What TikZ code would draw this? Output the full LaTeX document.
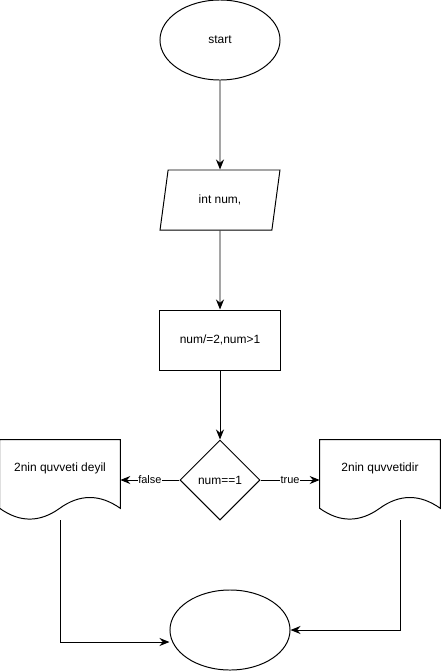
\documentclass[tikz,border=0pt]{standalone}
\usepackage{fontspec}
\setmainfont{Liberation Sans}
\usetikzlibrary{shapes.geometric, arrows.meta, positioning, calc}
\tikzset{
	box/.style={draw, line width=0.7pt, inner sep=0pt, font=\fontsize{8.5}{10}\selectfont},
	terminal/.style={box, ellipse, minimum width=3cm, minimum height=2cm},
	io/.style={box, trapezium, trapezium left angle=72, trapezium right angle=108, trapezium stretches=true, minimum width=3cm, minimum height=1.5cm},
	process/.style={box, rectangle, minimum width=3cm, minimum height=1.5cm},
	decision/.style={box, diamond, aspect=1, minimum width=2cm, minimum height=2cm},
	docbox/.style={inner sep=0pt, minimum width=3cm, minimum height=2cm},
	doctext/.style={font=\fontsize{8.5}{10}\selectfont},
	flow/.style={line width=0.7pt, -{Stealth[length=2.5mm, width=2mm]}},
	edgelabel/.style={fill=white, inner sep=0.5pt, font=\fontsize{7.8}{9}\selectfont}
}
% Syntax: \docshape{node name} -- page with a wavy lower edge
\newcommand{\docshape}[1]{
	\draw[line width=0.7pt] (#1.north west) -- (#1.north east) -- ($(#1.south east)+(0,-12)$)
	.. controls ($(#1.south west)+(100,-26.4)$) and ($(#1.south west)+(80,-26.4)$) .. ($(#1.south west)+(60,-12)$)
	.. controls ($(#1.south west)+(40,2.4)$) and ($(#1.south west)+(20,2.4)$) .. ($(#1.south west)+(0,-12)$)
	-- cycle;
}
\begin{document}
\begin{tikzpicture}[x=0.025cm, y=-0.025cm]
		\useasboundingbox (0,0) rectangle (441,671);
		
		%main column
		\node[terminal] (start) at (220,40) {start};
		\node[io] (input) at (220,200) {int num,};
		\node[process] (divide) at (220,340) {num/=2,num>1};
		\node[decision] (check) at (220,480) {num==1};
		\node[terminal] (stop) at (230,630) {};
		
		%documents
		\node[docbox] (nodoc) at (60,480) {};
		\docshape{nodoc}
		\node[doctext] (notext) at ([yshift=0.3cm]nodoc.center) {2nin quvveti deyil};
		\node[docbox] (yesdoc) at (380,480) {};
		\docshape{yesdoc}
		\node[doctext] (yestext) at ([yshift=0.3cm]yesdoc.center) {2nin quvvetidir};
		
		%arrows
		\draw[flow] (start) -- (input);
		\draw[flow] (input) -- (divide);
		\draw[flow] (divide) -- (check);
		\draw[flow] (check.west) -- node[edgelabel] {false} (nodoc.east);
		\draw[flow] (check.east) -- node[edgelabel] {true} (yesdoc.west);
		\draw[flow] (nodoc.south) |- ([yshift=-0.3cm]stop.west);
		\draw[flow] ([xshift=0.5cm]yesdoc.south) |- (stop.east);
\end{tikzpicture}
\end{document}
